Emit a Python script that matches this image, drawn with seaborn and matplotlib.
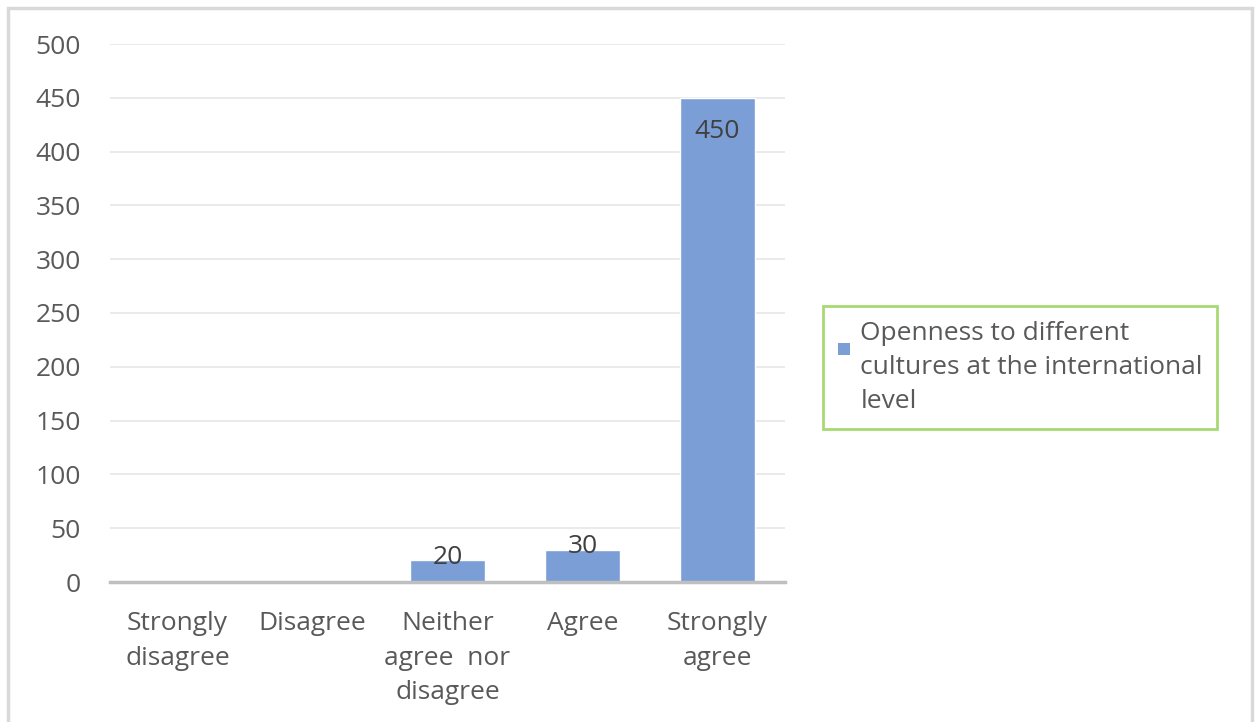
import matplotlib
matplotlib.use("Agg")
import matplotlib.pyplot as plt
import seaborn as sns
import pandas as pd
from matplotlib.patches import Rectangle, Patch
from matplotlib.legend_handler import HandlerBase

categories = ["Strongly\ndisagree", "Disagree", "Neither\nagree  nor\ndisagree", "Agree", "Strongly\nagree"]
values = [0, 0, 20, 30, 450]
series_name = "Openness to different\ncultures at the international\nlevel"
y_ticks = [0, 50, 100, 150, 200, 250, 300, 350, 400, 450, 500]

sns.set_theme(style="white")
plt.rcParams["font.family"] = ["Open Sans", "DejaVu Sans"]

text_color = "#595959"
bar_color = "#7B9ED6"
fs = 19

fig = plt.figure(figsize=(12.55, 7.22), dpi=100)
W, H = 1255, 722

# outer chart frame
fig.patches.append(Rectangle((8 / W, -0.05), 1244 / W, 1.05 - 8 / H, transform=fig.transFigure,
                             fill=False, edgecolor="#D9D9D9", linewidth=2.5, zorder=0))

ax = fig.add_axes([110 / W, 140 / H, 675 / W, 538 / H])
df = pd.DataFrame({"category": categories, "count": values})
sns.barplot(data=df, x="category", y="count", color=bar_color, saturation=1,
            width=0.556, ax=ax, zorder=3)

ax.set_ylim(0, 500)
ax.set_xlim(-0.5, len(categories) - 0.5)
ax.set_yticks(y_ticks)
ax.set_xlabel("")
ax.set_ylabel("")
ax.yaxis.grid(True, color="#E8E8E8", linewidth=1.3, zorder=0)
ax.set_axisbelow(True)
for side in ["top", "right", "left"]:
    ax.spines[side].set_visible(False)
ax.spines["bottom"].set_color("#BFBFBF")
ax.spines["bottom"].set_linewidth(2.5)
ax.spines["bottom"].set_zorder(4)
ax.tick_params(axis="both", length=0, labelsize=fs, colors=text_color)
ax.tick_params(axis="y", pad=21)
ax.tick_params(axis="x", pad=21)
for lab in ax.get_xticklabels():
    lab.set_linespacing(1.5)

# value labels
for i, v in enumerate(values):
    if v == 0:
        continue
    if v > 400:
        ax.annotate(str(v), (i, v), xytext=(0, -24), textcoords="offset points",
                    ha="center", va="center", fontsize=fs, color="#404040", zorder=5)
    else:
        ax.annotate(str(v), (i, v), xytext=(0, 2), textcoords="offset points",
                    ha="center", va="center", fontsize=fs, color="#404040", zorder=5)


class TopSquareHandler(HandlerBase):
    """Legend key drawn as a small square aligned with the first text line."""

    def create_artists(self, legend, orig_handle, xdescent, ydescent,
                       width, height, fontsize, trans):
        s = 0.47 * fontsize
        top = -ydescent + height - 0.45 * fontsize
        r = Rectangle((-xdescent, top - s), s, s, facecolor=orig_handle.get_facecolor(),
                      edgecolor="none", transform=trans)
        return [r]


handle = Patch(facecolor=bar_color, edgecolor="none")
leg = fig.legend([handle], [series_name], loc="upper left",
                 bbox_to_anchor=(823 / W, 1 - 306 / H), frameon=True,
                 fontsize=fs, handlelength=0.47, handleheight=4.2,
                 handletextpad=0.4, borderpad=0.55, borderaxespad=0,
                 handler_map={Patch: TopSquareHandler()})
frame = leg.get_frame()
frame.set_edgecolor("#92D050")
frame.set_linewidth(2)
frame.set_boxstyle("square", pad=0)
for t in leg.get_texts():
    t.set_color(text_color)
    t.set_linespacing(1.49)

fig.savefig("out.png", dpi=100, facecolor="white")
